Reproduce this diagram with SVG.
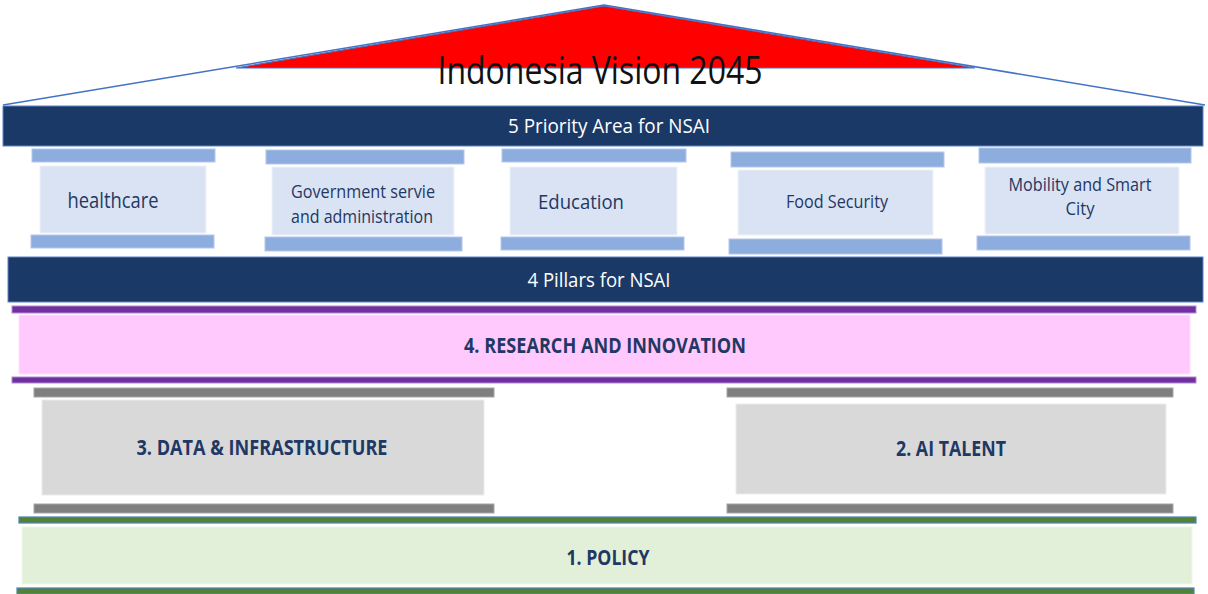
<svg xmlns="http://www.w3.org/2000/svg" width="1208" height="594" viewBox="0 0 1208 594">
<style>
.navy{fill:#1b3966;stroke:#5b86c9;stroke-width:1}
.cap{fill:#8eaddf;stroke:#b4c7e7;stroke-width:1}
.body{fill:#dae3f3;stroke:#eef2fa;stroke-width:1}
.purple{fill:#7030a0;stroke:#b08ad0;stroke-width:1}
.gcap{fill:#7f7f7f;stroke:#a6a6a6;stroke-width:1}
.gbody{fill:#d9d9d9;stroke:#ececec;stroke-width:1}
.green{fill:#548235;stroke:#4f81bd;stroke-width:1.2}
.wt{font-family:"Open Sans","Liberation Sans",sans-serif;fill:#ffffff;text-anchor:middle}
.pt{font-family:"Open Sans","Liberation Sans",sans-serif;fill:#1f3864;text-anchor:middle}
.bt{font-family:"Open Sans","Liberation Sans",sans-serif;fill:#1f3864;text-anchor:middle;font-weight:bold}
</style>
<rect width="1208" height="594" fill="#ffffff"/>
<g id="roof">
<polyline points="3,105 604,5 1205,105" fill="none" stroke="#4472c4" stroke-width="1.5"/>
<polygon points="236,68 604,6 975,68" fill="#ff0000" stroke="#4472c4" stroke-width="1.2"/>
<text x="600" y="84" font-family="'Open Sans','Liberation Sans',sans-serif" font-size="38" fill="#111111" text-anchor="middle" textLength="325" lengthAdjust="spacingAndGlyphs">Indonesia Vision 2045</text>
</g>
<g id="priority-bar">
<rect class="navy" x="3" y="106" width="1200" height="40"/>
<text class="wt" x="609" y="133" font-size="20" textLength="202" lengthAdjust="spacingAndGlyphs">5 Priority Area for NSAI</text>
</g>
<g id="pillar-healthcare">
<rect class="cap" x="32" y="149" width="183" height="13"/>
<rect class="body" x="40" y="166" width="166" height="67"/>
<rect class="cap" x="31" y="235" width="183" height="13"/>
<text class="pt" x="113" y="208" font-size="21" textLength="91" lengthAdjust="spacingAndGlyphs">healthcare</text>
</g>
<g id="pillar-government">
<rect class="cap" x="266" y="150" width="198" height="14"/>
<rect class="body" x="272" y="167" width="182" height="68"/>
<rect class="cap" x="265" y="237" width="197" height="14"/>
<text class="pt" x="363" y="198" font-size="18" textLength="144" lengthAdjust="spacingAndGlyphs">Government servie</text>
<text class="pt" x="362" y="223" font-size="18" textLength="142" lengthAdjust="spacingAndGlyphs">and administration</text>
</g>
<g id="pillar-education">
<rect class="cap" x="502" y="149" width="184" height="13"/>
<rect class="body" x="510" y="167" width="167" height="68"/>
<rect class="cap" x="501" y="237" width="183" height="13"/>
<text class="pt" x="581" y="209" font-size="20" textLength="86" lengthAdjust="spacingAndGlyphs">Education</text>
</g>
<g id="pillar-food">
<rect class="cap" x="731" y="152" width="213" height="15"/>
<rect class="body" x="738" y="170" width="195" height="65"/>
<rect class="cap" x="729" y="239" width="213" height="15"/>
<text class="pt" x="837" y="208" font-size="18" textLength="102" lengthAdjust="spacingAndGlyphs">Food Security</text>
</g>
<g id="pillar-mobility">
<rect class="cap" x="979" y="148" width="212" height="15"/>
<rect class="body" x="985" y="167" width="194" height="67"/>
<rect class="cap" x="977" y="236" width="213" height="14"/>
<text class="pt" x="1080" y="191" font-size="18" textLength="143" lengthAdjust="spacingAndGlyphs">Mobility and Smart</text>
<text class="pt" x="1080" y="215" font-size="18" textLength="29" lengthAdjust="spacingAndGlyphs">City</text>
</g>
<g id="pillars-bar">
<rect class="navy" x="8" y="257" width="1195" height="45"/>
<text class="wt" x="599" y="287" font-size="20" textLength="143" lengthAdjust="spacingAndGlyphs">4 Pillars for NSAI</text>
</g>
<g id="research">
<rect class="purple" x="12" y="306" width="1184" height="7"/>
<rect x="19" y="315" width="1171" height="59" fill="#ffc9fd" stroke="#ffe0fe" stroke-width="1"/>
<rect class="purple" x="12" y="377" width="1184" height="6"/>
<text class="bt" x="605" y="353" font-size="21" textLength="282" lengthAdjust="spacingAndGlyphs">4. RESEARCH AND INNOVATION</text>
</g>
<g id="data-infrastructure">
<rect class="gcap" x="34" y="388" width="460" height="9"/>
<rect class="gbody" x="42" y="400" width="442" height="95"/>
<rect class="gcap" x="34" y="504" width="460" height="9"/>
<text class="bt" x="262" y="455" font-size="21" textLength="251" lengthAdjust="spacingAndGlyphs">3. DATA &amp; INFRASTRUCTURE</text>
</g>
<g id="ai-talent">
<rect class="gcap" x="727" y="388" width="446" height="9"/>
<rect class="gbody" x="736" y="404" width="430" height="90"/>
<rect class="gcap" x="727" y="504" width="446" height="9"/>
<text class="bt" x="951" y="456" font-size="21" textLength="110" lengthAdjust="spacingAndGlyphs">2. AI TALENT</text>
</g>
<g id="policy">
<rect class="green" x="19" y="517" width="1177" height="6"/>
<rect x="22" y="527" width="1170" height="57" fill="#e2f0d9" stroke="#eef7e8" stroke-width="1"/>
<rect class="green" x="17" y="588" width="1177" height="6"/>
<text class="bt" x="608" y="565" font-size="21" textLength="83" lengthAdjust="spacingAndGlyphs">1. POLICY</text>
</g>
<g id="connectors"/>
</svg>
